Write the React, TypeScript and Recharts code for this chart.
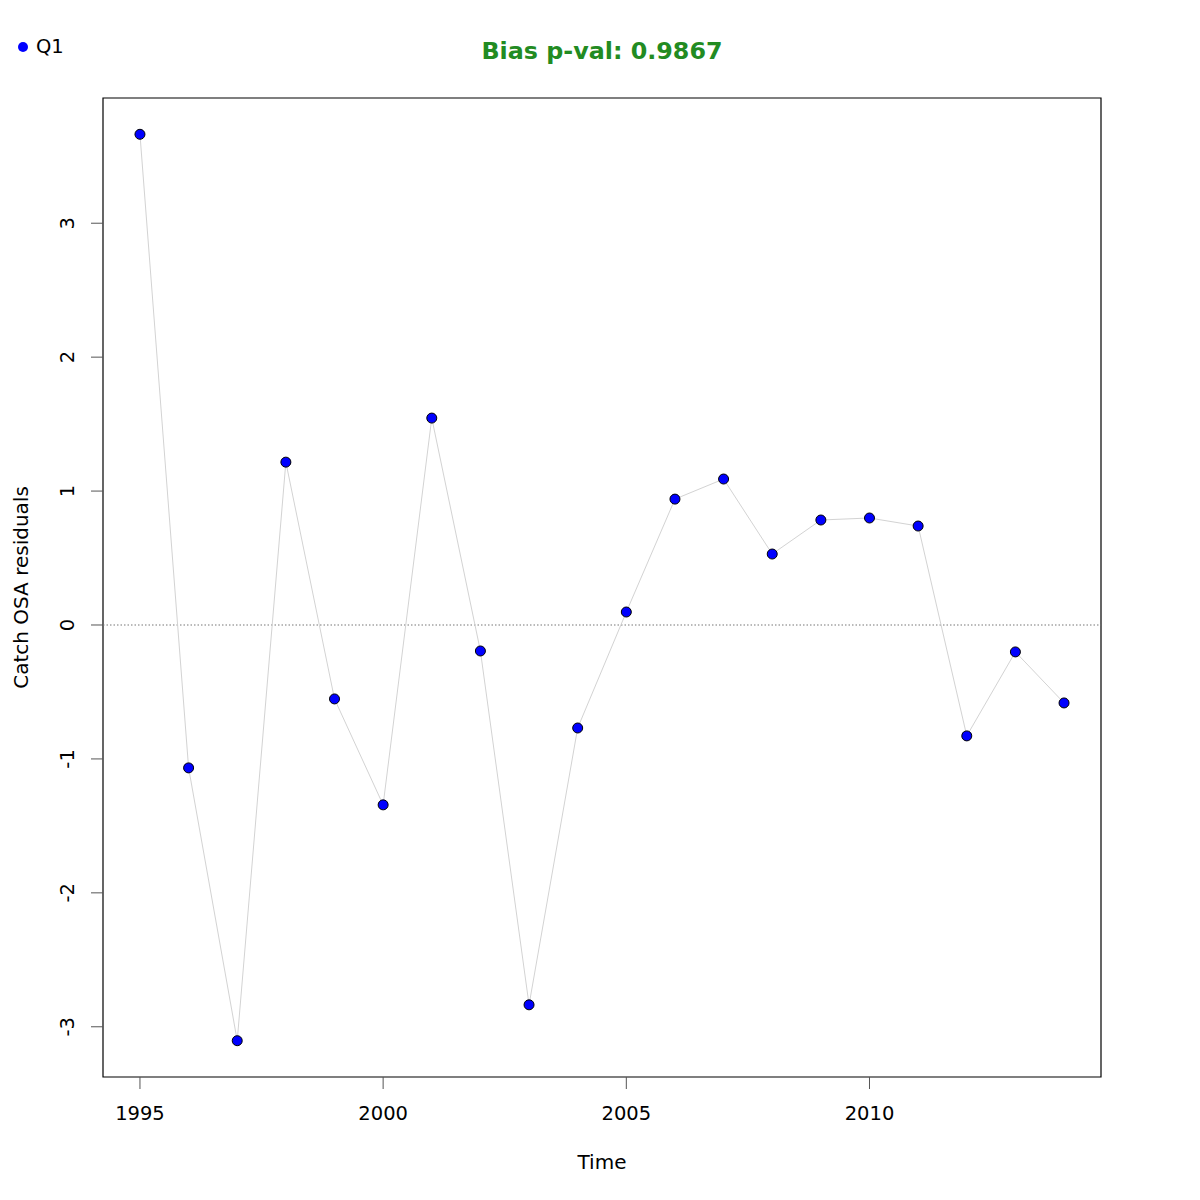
import React from 'react';
import { LineChart, Line, XAxis, YAxis, ReferenceLine, ReferenceArea } from 'recharts';

const years = [1995, 1996, 1997, 1998, 1999, 2000, 2001, 2002, 2003, 2004, 2005, 2006, 2007, 2008, 2009, 2010, 2011, 2012, 2013, 2014];
const residuals = [3.664, -1.067, -3.104, 1.216, -0.552, -1.343, 1.545, -0.194, -2.836, -0.769, 0.097, 0.94, 1.09, 0.53, 0.784, 0.799, 0.739, -0.828, -0.201, -0.582];
const xTicks = [1995, 2000, 2005, 2010];
const yTicks = [-3, -2, -1, 0, 1, 2, 3];
const seriesName = 'Q1';
const title = 'Bias p-val: 0.9867';

const data = years.map((year, i) => ({ year, value: residuals[i] }));

const X_DOMAIN = [1994.24, 2014.76];
const Y_DOMAIN = [-3.375, 3.935];
const FONT = '"DejaVu Sans", sans-serif';

const XTick = (props: any) => (
  <text x={props.x} y={1120} textAnchor="middle" fontSize={19.5} fontFamily={FONT} fill="#000">
    {props.payload.value}
  </text>
);

const YTick = (props: any) => (
  <text x={74} y={props.y} textAnchor="middle" fontSize={19.5} fontFamily={FONT} fill="#000" transform={`rotate(-90 74 ${props.y})`}>
    {props.payload.value}
  </text>
);

const Dot = (props: any) => {
  if (props.cx == null || props.cy == null) return null;
  return <circle cx={props.cx} cy={props.cy} r={5} fill="#0000ff" stroke="#000" strokeWidth={1} />;
};

export default function App() {
  return (
    <div style={{ position: 'absolute', left: 0, top: 0, width: 1200, height: 1200, background: '#fff' }}>
      <LineChart width={1200} height={1200} data={data} margin={{ top: 98, right: 99, bottom: 63, left: 43 }}>
        <XAxis
          type="number"
          dataKey="year"
          domain={X_DOMAIN}
          ticks={xTicks}
          height={60}
          axisLine={false}
          tickSize={12}
          tickLine={{ stroke: '#555', strokeWidth: 1 }}
          tick={<XTick />}
          allowDataOverflow
          label={(p: any) => (
            <text x={602} y={1169} textAnchor="middle" fontSize={20} fontFamily={FONT} fill="#000">Time</text>
          )}
        />
        <YAxis
          type="number"
          domain={Y_DOMAIN}
          ticks={yTicks}
          width={60}
          axisLine={false}
          tickSize={12}
          tickLine={{ stroke: '#555', strokeWidth: 1 }}
          tick={<YTick />}
          allowDataOverflow
          label={(p: any) => (
            <text x={28} y={587.5} textAnchor="middle" fontSize={20} fontFamily={FONT} fill="#000" transform="rotate(-90 28 587.5)">
              Catch OSA residuals
            </text>
          )}
        />
        <ReferenceLine y={0} stroke="#777" strokeWidth={1.2} strokeDasharray="1.5 2" />
        <Line
          type="linear"
          dataKey="value"
          stroke="#d3d3d3"
          strokeWidth={1}
          dot={<Dot />}
          activeDot={false}
          isAnimationActive={false}
        />
        <ReferenceArea x1={X_DOMAIN[0]} x2={X_DOMAIN[1]} y1={Y_DOMAIN[0]} y2={Y_DOMAIN[1]} fill="none" stroke="#000" strokeWidth={1.2} />
      </LineChart>
      <div style={{ position: 'absolute', left: 0, top: 36, width: 1204, textAlign: 'center', fontFamily: FONT, fontWeight: 'bold', fontSize: 23.8, color: '#228b22', lineHeight: '30px' }}>
        {title}
      </div>
      <div style={{ position: 'absolute', left: 18, top: 35, display: 'flex', alignItems: 'center', fontFamily: FONT, fontSize: 19.5, lineHeight: '24px' }}>
        <span style={{ display: 'inline-block', width: 10, height: 10, borderRadius: '50%', background: '#0000ff', marginRight: 8 }} />
        <span>{seriesName}</span>
      </div>
    </div>
  );
}
